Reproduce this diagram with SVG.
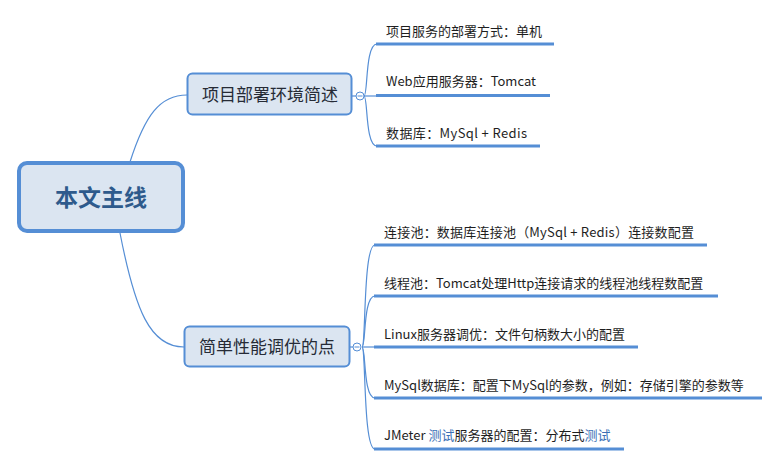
<svg xmlns="http://www.w3.org/2000/svg" width="778" height="466" viewBox="0 0 778 466">
<style>
.conn{fill:none;stroke:#558ed5;stroke-width:1.2}
.ul{stroke:#558ed5;stroke-width:3;stroke-linecap:butt}
.node{fill:#dbe5f1;stroke:#558ed5;stroke-width:2}
.t{font-family:"Noto Sans CJK SC","Microsoft YaHei",sans-serif;fill:#1e1e1e}
.c{font-size:13px}
.n{font-size:17px;text-anchor:middle;fill:#262b36}
.main{font-size:23px;font-weight:bold;text-anchor:middle;fill:#2e5a8c}
.hl{fill:#3a6fb5}
.tog{fill:#fff;stroke:#558ed5;stroke-width:1}
</style>
<rect width="778" height="466" fill="#fff"/>
<g id="connectors">
<path class="conn" d="M130,162 C145,115 160,95 187,95"/>
<path class="conn" d="M120,233 C135,310 150,347 184,347"/>
<path class="conn" d="M364,96 C368,96 365,44 377,44"/>
<path class="conn" d="M364,96 L377,96"/>
<path class="conn" d="M364,96 C368,96 365,146 377,146"/>
<path class="conn" d="M362,347 C366,347 363,245 375,245"/>
<path class="conn" d="M362,347 C366,347 363,296 375,296"/>
<path class="conn" d="M362,347 L375,347"/>
<path class="conn" d="M362,347 C366,347 363,398 375,398"/>
<path class="conn" d="M362,347 C366,347 363,449 375,449"/>
<line class="conn" x1="352" y1="96" x2="356" y2="96"/>
<line class="conn" x1="350" y1="347" x2="353" y2="347"/>
<circle class="tog" cx="360" cy="96" r="4"/>
<line x1="357.5" y1="96" x2="362.5" y2="96" stroke="#558ed5" stroke-width="1"/>
<circle class="tog" cx="357" cy="347" r="4"/>
<line x1="354.5" y1="347" x2="359.5" y2="347" stroke="#558ed5" stroke-width="1"/>
</g>
<g id="main">
<rect x="19" y="163" width="164" height="68" rx="8" fill="#dbe5f1" stroke="#558ed5" stroke-width="4"/>
<text class="t main" x="101" y="206">本文主线</text>
</g>
<g id="n1">
<rect class="node" x="187.5" y="73.5" width="164" height="41" rx="5"/>
<text class="t n" x="270" y="101">项目部署环境简述</text>
</g>
<g id="n2">
<rect class="node" x="184.5" y="326.5" width="165" height="40" rx="5"/>
<text class="t n" x="267" y="353">简单性能调优的点</text>
</g>
<g id="c1">
<line class="ul" x1="376" y1="44" x2="554" y2="44"/>
<text class="t c" x="386" y="36">项目服务的部署方式：单机</text>
</g>
<g id="c2">
<line class="ul" x1="376" y1="95.5" x2="550" y2="95.5"/>
<text class="t c" x="386" y="86">Web应用服务器：Tomcat</text>
</g>
<g id="c3">
<line class="ul" x1="376" y1="146" x2="540" y2="146"/>
<text class="t c" x="386" y="138" textLength="141" lengthAdjust="spacing">数据库：MySql + Redis</text>
</g>
<g id="c4">
<line class="ul" x1="374" y1="245" x2="707" y2="245"/>
<text class="t c" x="384" y="237" textLength="310" lengthAdjust="spacing">连接池：数据库连接池（MySql + Redis）连接数配置</text>
</g>
<g id="c5">
<line class="ul" x1="374" y1="296" x2="718" y2="296"/>
<text class="t c" x="384" y="288">线程池：Tomcat处理Http连接请求的线程池线程数配置</text>
</g>
<g id="c6">
<line class="ul" x1="374" y1="347" x2="638" y2="347"/>
<text class="t c" x="384" y="339">Linux服务器调优：文件句柄数大小的配置</text>
</g>
<g id="c7">
<line class="ul" x1="374" y1="398" x2="762" y2="398"/>
<text class="t c" x="384" y="390">MySql数据库：配置下MySql的参数，例如：存储引擎的参数等</text>
</g>
<g id="c8">
<line class="ul" x1="374" y1="449" x2="624" y2="449"/>
<text class="t c" x="384" y="440">JMeter <tspan class="hl">测试</tspan>服务器的配置：分布式<tspan class="hl">测试</tspan></text>
</g>
</svg>
